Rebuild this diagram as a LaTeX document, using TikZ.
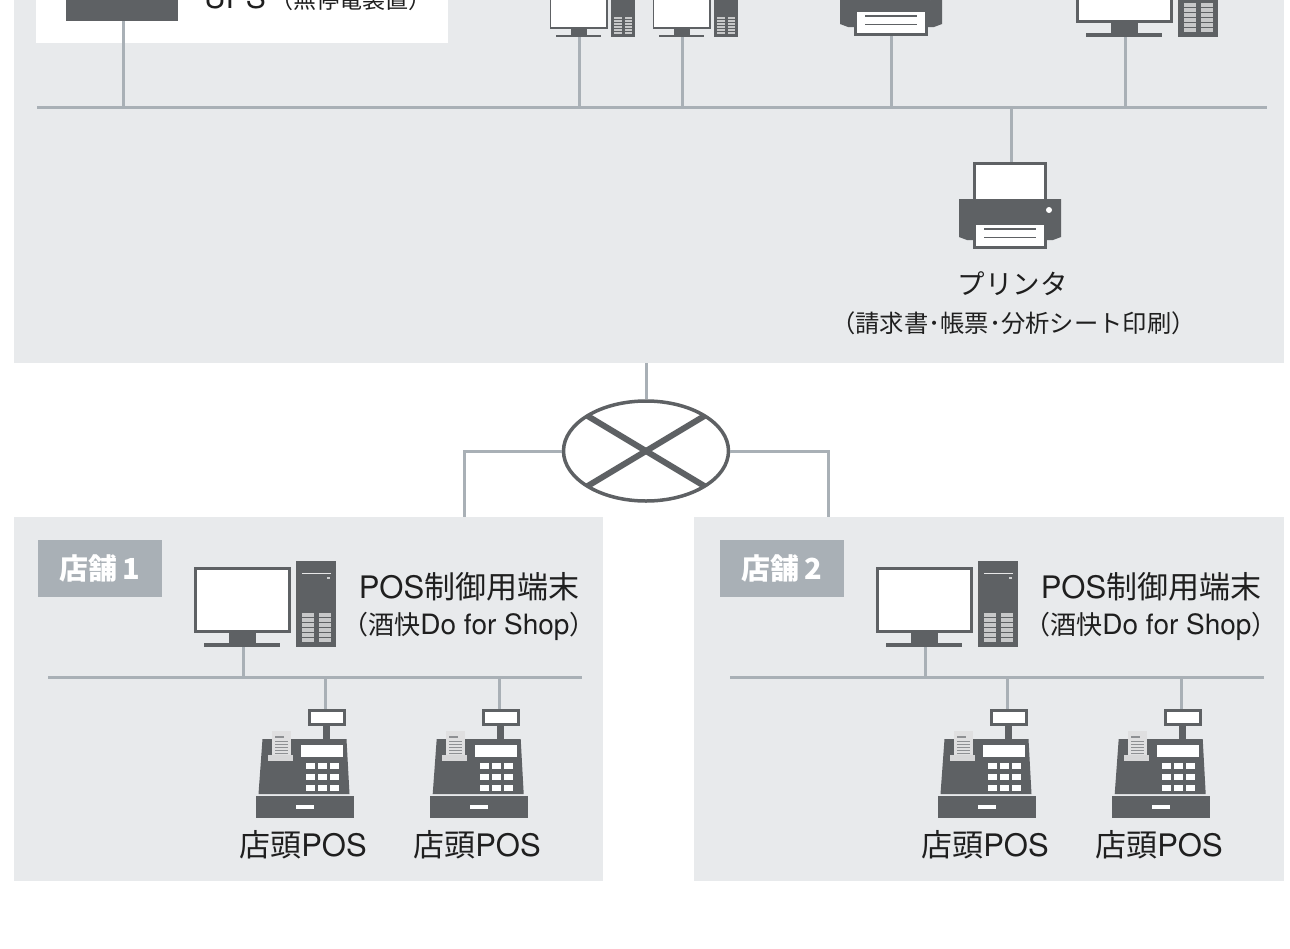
\documentclass[tikz,border=0pt]{standalone}
\usepackage{fontspec}
\setmainfont{TeX Gyre Heros}
\newfontfamily\cjk{Noto Sans CJK JP}
\usetikzlibrary{shapes.geometric}
\definecolor{panelc}{HTML}{E8EAEC}
\definecolor{linec}{HTML}{A9B0B6}
\definecolor{darkc}{HTML}{5E6164}
\newcommand{\fs}[1]{\fontsize{#1}{#1}\selectfont}
\newcommand{\ltn}[1]{\fontspec{TeX Gyre Heros}\fs{#1}}
\tikzset{
  x=1pt,y=-1pt,
  panel/.style={fill=panelc,anchor=north west,inner sep=0pt,outer sep=0pt},
  wire/.style={draw=linec,line width=3pt},
  dk/.style={fill=darkc},
  wt/.style={fill=white},
  lbl/.style={inner sep=0pt,text=black!88},
  bigpc/.pic={
    \fill[dk] (-49,-80) rectangle (48,-14);
    \fill[wt] (-46,-77) rectangle (45,-17);
    \fill[dk] (-14,-14) rectangle (13,-3);
    \fill[dk] (-39,-4) rectangle (37,0);
    \fill[dk] (53,-86) rectangle (93,0);
    \fill[white!85!darkc] (59,-74) rectangle (88,-73);
    \fill[white!70!darkc] (84,-70) rectangle (87,-68);
    \foreach \r in {0,1,2,3,4,5}{
      \fill[white!65!darkc] (59,-34+\r*5) rectangle (71,-30+\r*5);
      \fill[white!65!darkc] (76,-34+\r*5) rectangle (88,-30+\r*5);
    }
  },
  printer/.pic={
    \fill[dk] (-37,-87) rectangle (37,-49);
    \fill[wt] (-34,-84) rectangle (34,-49);
    \fill[dk] (-51,-50) -- (51,-50) -- (51,-12) -- (43,-9) -- (-43,-9) -- (-51,-12) -- cycle;
    \fill[wt] (39,-39) circle (3);
    \fill[dk] (-37,-26) rectangle (37,0);
    \fill[wt] (-34,-24) rectangle (34,-3);
    \fill[dk] (-26,-21) rectangle (26,-19.5);
    \fill[dk] (-26,-12.5) rectangle (26,-11);
  },
  posreg/.pic={
    \fill[dk] (-18,0) rectangle (20,17);
    \fill[wt] (-15,3) rectangle (17,14);
    \fill[dk] (-3,17) rectangle (4,31);
    \fill[dk] (-63,30) -- (21,30) -- (24,85) -- (-67,85) -- cycle;
    \fill[white!80!darkc] (-54,22) rectangle (-35,48);
    \foreach \r in {0,1,2,3,4}{\fill[darkc!70!white] (-51,32+\r*3) rectangle (-38,33+\r*3);}
    \fill[darkc!70!white] (-51,27) rectangle (-42,29);
    \fill[white!75!darkc] (-58,46) rectangle (-33,52);
    \fill[wt] (-25,36) rectangle (17,48);
    \foreach \cx in {-20,-8,4}{\foreach \cy in {54,65,76}{
      \fill[wt] (\cx,\cy) rectangle (\cx+9,\cy+5.5);
    }}
    \fill[dk] (-70,87) rectangle (28,109);
    \fill[wt] (-30,96) rectangle (-12,100);
  }
}
\begin{document}
\begin{tikzpicture}
\useasboundingbox (0,0) rectangle (1290,948);
\begin{scope}
\clip (0,0) rectangle (1290,948);
\fill[white] (0,0) rectangle (1290,948);
% top panel
\node[panel,minimum width=1270pt,minimum height=373pt] (toppanel) at (14,-10) {};
\fill[white] (36,-10) rectangle (448,43);
\node[fill=darkc,inner sep=0pt,minimum width=112pt,minimum height=41pt] (ups) at (122,0.5) {};
\node[lbl,anchor=base west] (upslabel) at (204,8) {\fs{30}UPS\,\cjk\fs{23}（無停電装置）};
% bus
\coordinate (busL) at (37,107);
\coordinate (busR) at (1267,107);
\coordinate (upsdrop) at (123.7,21);
\coordinate (pcA) at (579,37);
\coordinate (pcB) at (682,37);
\coordinate (prA) at (891,36);
\coordinate (pcC) at (1125,37);
\coordinate (prBtop) at (1011,163);
\coordinate (prB) at (1010,249);
\draw[wire] (upsdrop) -- (upsdrop |- busL);
\draw[wire] (pcA) -- (pcA |- busL);
\draw[wire] (pcB) -- (pcB |- busL);
\draw[wire] (prA) -- (prA |- busL);
\draw[wire] (pcC) -- (pcC |- busL);
\draw[wire] (prBtop) -- (prBtop |- busL);
\draw[wire] (busL) -- (busR);
\pic[scale=0.6] at (pcA) {bigpc};
\pic[scale=0.6] at (pcB) {bigpc};
\pic at (prA) {printer};
\pic at (pcC) {bigpc};
\pic at (prB) {printer};
\node[lbl] (prname) at (1012.5,284) {\cjk\fs{27.5}プリンタ};
\node[lbl] (prsub) at (1013.5,323) {\cjk\fs{24.3}（請求書･帳票･分析シート印刷）};
% router
\coordinate (routerUp) at (646,363);
\node[ellipse,draw=darkc,fill=white,line width=3.5pt,minimum width=165pt,minimum height=100pt,inner sep=0pt] (router) at (646,451) {};
\coordinate (drop1) at (464,517);
\coordinate (drop2) at (828,517);
\draw[wire] (routerUp) -- (router.north);
\draw[wire] (router.west) -| (drop1);
\draw[wire] (router.east) -| (drop2);
\coordinate (xa) at (581,412);
\coordinate (xb) at (711,490);
\coordinate (xc) at (711,412);
\coordinate (xd) at (581,490);
\begin{scope}
  \clip (646,451) ellipse [x radius=82,y radius=49];
  \draw[darkc,line width=6pt] (xa) -- (xb);
  \draw[darkc,line width=6pt] (xc) -- (xd);
\end{scope}
% stores
\foreach \s/\dx/\w in {1/0/589,2/682/590}{
  \begin{scope}[xshift=\dx pt]
    \node[panel,minimum width=\w pt,minimum height=364pt] (store\s) at ({14+(\dx>0?-2:0)},517) {};
    \node[fill=linec,text=white,inner sep=0pt,minimum width=124pt,minimum height=57pt] (tag\s) at (100,568.5) {\cjk\bfseries\fs{29}店舗\,\s};
    \coordinate (sbusL\s) at (48,677);
    \coordinate (sbusR\s) at (582,677);
    \coordinate (spc\s) at (243,647);
    \coordinate (posA\s) at (325.5,709);
    \coordinate (posB\s) at (499.7,709);
    \draw[wire] (spc\s) -- (spc\s |- sbusL\s);
    \draw[wire] (posA\s) -- (posA\s |- sbusL\s);
    \draw[wire] (posB\s) -- (posB\s |- sbusL\s);
    \draw[wire] (sbusL\s) -- (sbusR\s);
    \pic at (spc\s) {bigpc};
    \pic at (posA\s) {posreg};
    \pic at (posB\s) {posreg};
    \node[lbl] (ctl\s) at (469,587) {\fs{31}POS\cjk 制御用端末};
    \node[lbl] (ctlsub\s) at (469,626) {\cjk\fs{26}（酒快\ltn{28}Do for Shop\cjk\fs{26}）};
    \node[lbl] (labA\s) at (303,845) {\cjk\fs{31}店頭\ltn{31}POS};
    \node[lbl] (labB\s) at (477,845) {\cjk\fs{31}店頭\ltn{31}POS};
  \end{scope}
}
\end{scope}
\end{tikzpicture}
\end{document}
